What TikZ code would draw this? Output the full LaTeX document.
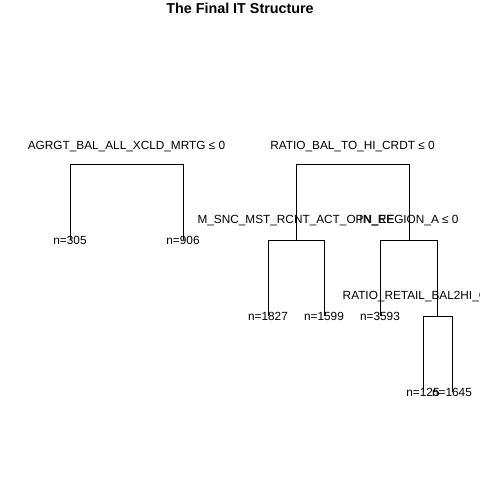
\documentclass[tikz,border=0pt]{standalone}
\usepackage{fontspec}
\setmainfont{Liberation Sans}
\tikzstyle{etiquette} = [inner sep=0pt, font=\fontsize{8.4pt}{10pt}\selectfont]
\tikzstyle{titre} = [inner sep=0pt, font=\fontsize{10.2pt}{12pt}\selectfont\bfseries]
\tikzstyle{branche} = [draw=black, line width=0.5pt]

\begin{document}
\begin{tikzpicture}[x=0.025cm, y=-0.025cm]

        \clip (0,0) rectangle (480,480);
        \fill[white] (0,0) rectangle (480,480);

        \node (T) [titre] at (240,8) {The Final IT Structure};

        % premier arbre
        \coordinate (A) at (126.5,164);
        \node (A1) [etiquette] at (70,240) {n=305};
        \node (A2) [etiquette] at (183,240) {n=906};
        \node () [etiquette] at (126.5,147) {AGRGT\_BAL\_ALL\_XCLD\_MRTG ≤ 0};

        \draw[branche] (A) -| (A1.center);
        \draw[branche] (A) -| (A2.center);

        % second arbre
        \coordinate (B) at (352.5,164);
        \coordinate (B1) at (296,240);
        \coordinate (B2) at (409,240);
        \coordinate (B22) at (437,316);
        \node (B11) [etiquette] at (268,316) {n=1827};
        \node (B12) [etiquette] at (324,316) {n=1599};
        \node (B21) [etiquette] at (380,316) {n=3593};
        \node (B221) [etiquette] at (423,392) {n=125};
        \node (B222) [etiquette] at (452,392) {n=1645};

        \node () [etiquette] at (352.5,147) {RATIO\_BAL\_TO\_HI\_CRDT ≤ 0};
        \node () [etiquette] at (296,221) {M\_SNC\_MST\_RCNT\_ACT\_OPN\_EE};
        \node () [etiquette] at (409,221) {IN\_REGION\_A ≤ 0};
        \node () [etiquette] at (437,297) {RATIO\_RETAIL\_BAL2HI\_CRDT ≤ 0};

        \draw[branche] (B) -| (B1);
        \draw[branche] (B) -| (B2);
        \draw[branche] (B1) -| (B11.center);
        \draw[branche] (B1) -| (B12.center);
        \draw[branche] (B2) -| (B21.center);
        \draw[branche] (B2) -| (B22);
        \draw[branche] (B22) -| (B221.center);
        \draw[branche] (B22) -| (B222.center);

    \end{tikzpicture}
\end{document}
